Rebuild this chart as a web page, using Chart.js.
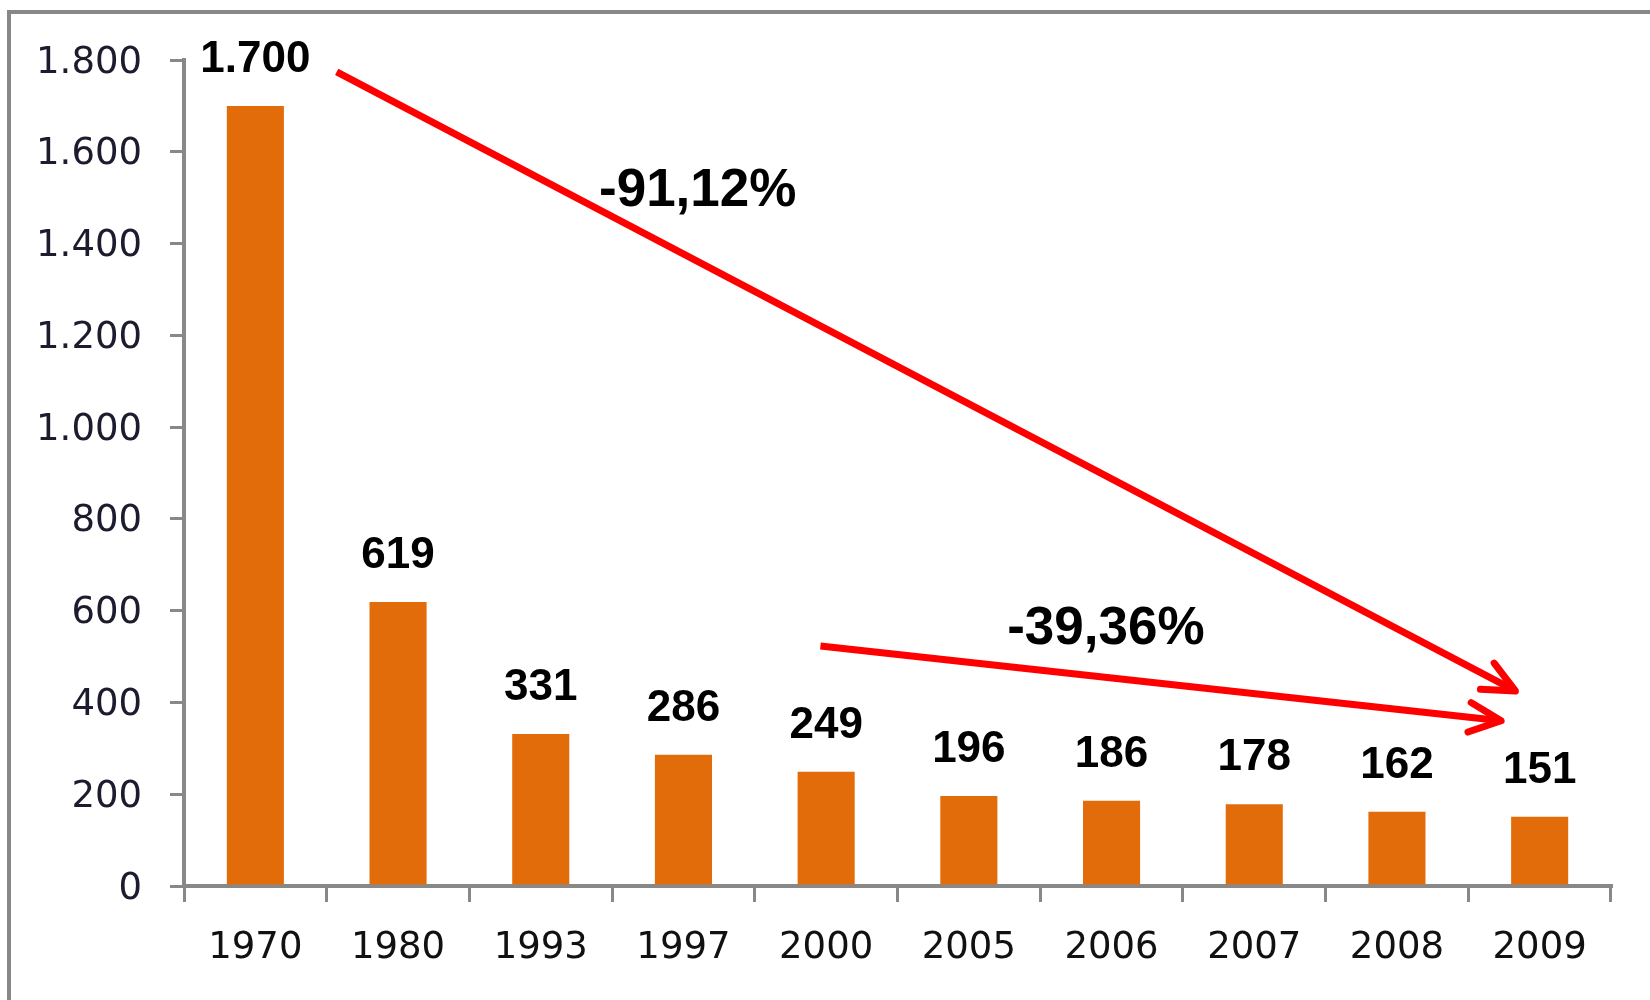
<!DOCTYPE html>
<html>
<head>
<meta charset="utf-8">
<script src="https://cdn.jsdelivr.net/npm/chart.js@4.4.1/dist/chart.umd.min.js"></script>
<style>
  html, body { margin: 0; padding: 0; background: #fff; }
  canvas { display: block; }
</style>
</head>
<body>
<canvas id="chart" width="1650" height="1000"></canvas>
<script>
// data
const years = ["1970", "1980", "1993", "1997", "2000", "2005", "2006", "2007", "2008", "2009"];
const values = [1700, 619, 331, 286, 249, 196, 186, 178, 162, 151];
const yMax = 1800;
const yStep = 200;

const fmt = (v) => String(v).replace(/\B(?=(\d{3})+(?!\d))/g, ".");

// frame of the original picture (only top and left edges are visible)
const framePlugin = {
  id: "frame",
  beforeDraw: (chart) => {
    const ctx = chart.ctx;
    ctx.save();
    ctx.fillStyle = "#fff";
    ctx.fillRect(0, 0, chart.width, chart.height);
    ctx.strokeStyle = "#888";
    ctx.lineWidth = 4;
    ctx.beginPath();
    ctx.moveTo(9, chart.height);
    ctx.lineTo(9, 12);
    ctx.lineTo(chart.width, 12);
    ctx.stroke();
    ctx.restore();
  }
};

// value labels above bars
const barLabelPlugin = {
  id: "barLabels",
  afterDatasetsDraw: (chart) => {
    const ctx = chart.ctx;
    const meta = chart.getDatasetMeta(0);
    ctx.save();
    ctx.font = "bold 44px 'Liberation Sans', Arial, sans-serif";
    ctx.fillStyle = "#000";
    ctx.textAlign = "center";
    ctx.textBaseline = "alphabetic";
    meta.data.forEach((bar, i) => {
      ctx.fillText(fmt(values[i]), bar.x, bar.y - 34);
    });
    ctx.restore();
  }
};

// red trend arrows with percentage text (in data space)
const arrows = [
  { from: [0.57, 1774], to: [8.83, 425], text: "-91,12%", at: [3.1, 1514] },
  { from: [3.96, 523], to: [8.73, 360], text: "-39,36%", at: [5.96, 560] }
];

const arrowPlugin = {
  id: "arrows",
  afterDraw: (chart) => {
    const ctx = chart.ctx;
    const xs = chart.scales.x, ys = chart.scales.y;
    ctx.save();
    arrows.forEach((a) => {
      const x1 = xs.getPixelForValue(a.from[0]), y1 = ys.getPixelForValue(a.from[1]);
      const x2 = xs.getPixelForValue(a.to[0]), y2 = ys.getPixelForValue(a.to[1]);
      const ang = Math.atan2(y2 - y1, x2 - x1);
      ctx.strokeStyle = "#ff0000";
      ctx.lineWidth = 7;
      ctx.lineCap = "butt";
      ctx.beginPath();
      ctx.moveTo(x1, y1);
      ctx.lineTo(x2, y2);
      ctx.stroke();
      ctx.lineCap = "round";
      ctx.lineJoin = "round";
      const len = 35, spread = 25 * Math.PI / 180;
      ctx.beginPath();
      ctx.moveTo(x2 - len * Math.cos(ang - spread), y2 - len * Math.sin(ang - spread));
      ctx.lineTo(x2, y2);
      ctx.lineTo(x2 - len * Math.cos(ang + spread), y2 - len * Math.sin(ang + spread));
      ctx.stroke();

      ctx.fillStyle = "#000";
      ctx.font = "bold 53px 'Liberation Sans', Arial, sans-serif";
      ctx.textAlign = "center";
      ctx.textBaseline = "middle";
      ctx.fillText(a.text, xs.getPixelForValue(a.at[0]), ys.getPixelForValue(a.at[1]));
    });
    ctx.restore();
  }
};

new Chart(document.getElementById("chart").getContext("2d"), {
  type: "bar",
  data: {
    labels: years,
    datasets: [{
      data: values,
      backgroundColor: "#E36C0A",
      borderWidth: 0,
      barPercentage: 0.4,
      categoryPercentage: 1.0
    }]
  },
  options: {
    responsive: false,
    animation: false,
    layout: { padding: { left: 0, top: 60, right: 39, bottom: 0 } },
    plugins: {
      legend: { display: false },
      title: { display: false },
      tooltip: { enabled: false }
    },
    scales: {
      x: {
        grid: {
          display: true,
          drawOnChartArea: false,
          drawTicks: true,
          tickLength: 16,
          color: "#888",
          lineWidth: 3,
          offset: true
        },
        border: { display: true, color: "#888", width: 4 },
        ticks: {
          color: "#111",
          padding: 24,
          font: { family: "'DejaVu Sans', Verdana, sans-serif", size: 37 }
        },
        afterFit: (scale) => { scale.height = 114; }
      },
      y: {
        min: 0,
        max: yMax,
        grid: {
          display: true,
          drawOnChartArea: false,
          drawTicks: true,
          tickLength: 14,
          color: "#888",
          lineWidth: 3
        },
        border: { display: true, color: "#888", width: 4 },
        ticks: {
          stepSize: yStep,
          color: "#1c1c2e",
          padding: 28,
          labelOffset: 3,
          font: { family: "'DejaVu Sans', Verdana, sans-serif", size: 37 },
          callback: (v) => fmt(v)
        },
        afterFit: (scale) => { scale.width = 184; }
      }
    }
  },
  plugins: [framePlugin, barLabelPlugin, arrowPlugin]
});
</script>
</body>
</html>
